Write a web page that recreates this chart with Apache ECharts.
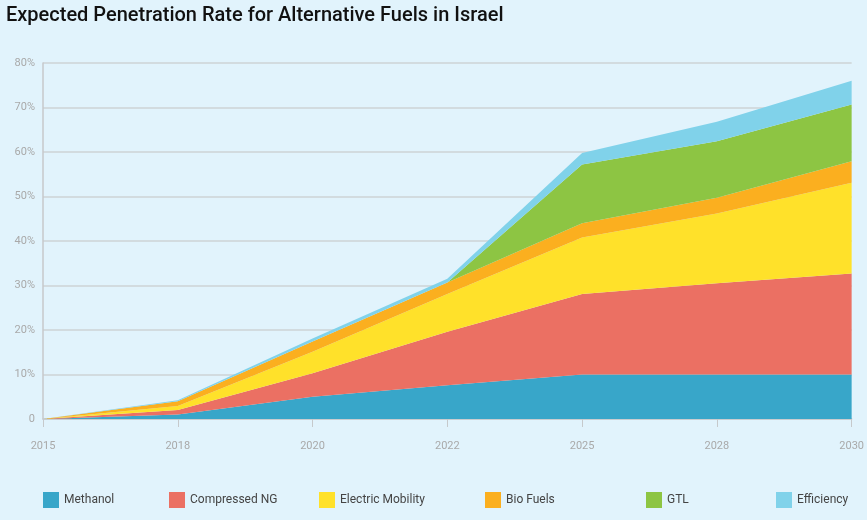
<!DOCTYPE html>
<html>
<head>
<meta charset="utf-8">
<script src="https://cdn.jsdelivr.net/npm/echarts@6/dist/echarts.min.js"></script>
<style>
html,body{margin:0;padding:0;background:#e1f3fc;}
#chart{width:867px;height:520px;}
</style>
</head>
<body>
<div id="chart"></div>
<script>
const years = ['2015','2018','2020','2022','2025','2028','2030'];
const methanol = [0, 1.0, 5.0, 7.6, 10, 10, 10];
const compressedNG = [0, 1.0, 5.3, 12.0, 18.1, 20.5, 22.7];
const electricMobility = [0, 0.9, 4.8, 8.5, 12.7, 15.7, 20.4];
const bioFuels = [0, 1.1, 2.3, 2.6, 3.2, 3.5, 4.8];
const gtl = [0, 0, 0, 0, 13.2, 12.7, 12.8];
const efficiency = [0, 0.2, 0.7, 0.8, 2.6, 4.4, 5.3];

const names = ['Methanol','Compressed NG','Electric Mobility','Bio Fuels','GTL','Efficiency'];
const colors = ['#38a6c9','#eb7063','#ffe12a','#fbaf1f','#8dc543','#80d2ea'];
const seriesData = [methanol, compressedNG, electricMobility, bioFuels, gtl, efficiency];
const legendLeft = [43, 169, 319, 485, 646, 776];

const chart = echarts.init(document.getElementById('chart'));
const font = 'Roboto, "DejaVu Sans", sans-serif';
chart.setOption({
  backgroundColor: '#e1f3fc',
  animation: false,
  title: {
    text: 'Expected Penetration Rate for Alternative Fuels in Israel',
    left: 6, top: 6, padding: 0,
    textStyle: {fontFamily: font, fontSize: 20, fontWeight: 500, color: '#111'}
  },
  color: colors,
  legend: names.map((n, i) => ({
    data: [n], left: legendLeft[i], top: 492, padding: 0,
    itemWidth: 16, itemHeight: 16, itemGap: 5,
    icon: 'rect',
    textStyle: {fontFamily: font, fontSize: 12, color: '#444', padding: [0, 0, 0, 0]}
  })),
  grid: {left: 43, right: 15, top: 63, bottom: 101},
  xAxis: {
    type: 'category', data: years, boundaryGap: false,
    axisLine: {lineStyle: {color: '#c6c9cb', width: 1.5}},
    axisTick: {show: true, length: 8, lineStyle: {color: '#c6c9cb', width: 1}},
    axisLabel: {fontFamily: font, fontSize: 11, color: '#a9a9a9', margin: 22, showMaxLabel: true, showMinLabel: true}
  },
  yAxis: {
    type: 'value', min: 0, max: 80, interval: 10,
    axisLine: {show: true, lineStyle: {color: '#c6c9cb', width: 1.5}},
    axisTick: {show: false},
    splitLine: {lineStyle: {color: '#cdd3d6', width: 1.5}},
    axisLabel: {fontFamily: font, fontSize: 11, color: '#a9a9a9', margin: 8,
      formatter: v => v === 0 ? '0' : v + '%'}
  },
  series: names.map((n, i) => ({
    name: n, type: 'line', stack: 'total',
    data: seriesData[i],
    symbol: 'none',
    lineStyle: {width: 0},
    areaStyle: {color: colors[i], opacity: 1},
    itemStyle: {color: colors[i]}
  }))
});
</script>
</body>
</html>
